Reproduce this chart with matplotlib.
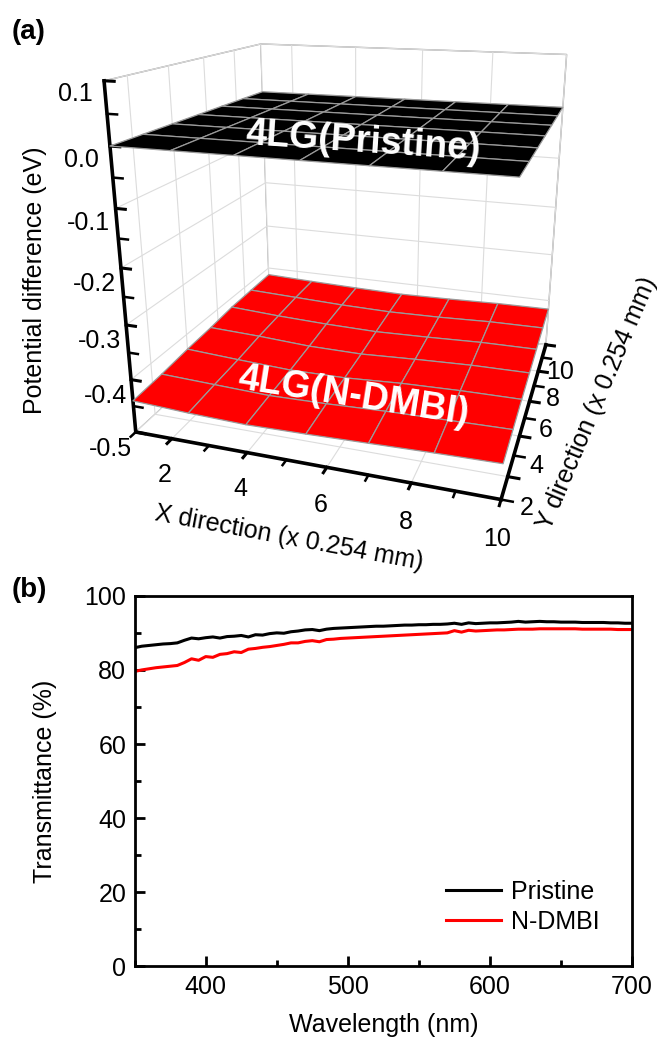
import numpy as np
import matplotlib.pyplot as plt
from matplotlib.ticker import MultipleLocator, FixedLocator, NullLocator

plt.rcParams['font.family'] = ['Liberation Sans', 'DejaVu Sans']

# (a) surface maps, grid points in units of 0.254 mm
x_pos = [1, 2.5, 4, 5.5, 7, 8.5, 10]
y_pos = [1, 2.5, 4, 5.5, 7, 8.5, 10]
z_pristine = [
    [0.0, 0.0, 0.0, 0.0, 0.0, 0.0, 0.0],
    [0.0, 0.0, 0.0, 0.0, 0.0, 0.0, 0.0],
    [0.0, 0.0, 0.0, 0.0, 0.0, 0.0, 0.0],
    [0.0, 0.0, 0.0, 0.0, 0.0, 0.0, 0.0],
    [0.0, 0.0, 0.0, 0.0, 0.0, 0.0, 0.0],
    [0.0, 0.0, 0.0, 0.0, 0.0, 0.0, 0.0],
    [0.0, 0.0, 0.0, 0.0, 0.0, 0.0, 0.0],
]
z_ndmbi = [
    [-0.440, -0.445, -0.448, -0.446, -0.443, -0.440, -0.438],
    [-0.436, -0.440, -0.444, -0.442, -0.438, -0.436, -0.434],
    [-0.430, -0.436, -0.441, -0.440, -0.434, -0.431, -0.430],
    [-0.426, -0.430, -0.436, -0.437, -0.432, -0.428, -0.427],
    [-0.420, -0.426, -0.430, -0.432, -0.429, -0.425, -0.424],
    [-0.418, -0.422, -0.426, -0.428, -0.426, -0.422, -0.421],
    [-0.416, -0.420, -0.423, -0.425, -0.423, -0.420, -0.419],
]

# (b) transmittance spectra
wl = list(range(350, 705, 5))
t_pristine = [86.0, 86.4, 86.6, 86.8, 87.0, 87.1, 87.3, 88.0, 88.6, 88.4,
              88.7, 88.9, 88.6, 89.0, 89.1, 89.3, 88.9, 89.5, 89.4, 89.8,
              90.0, 89.9, 90.3, 90.5, 90.8, 90.9, 90.6, 91.0, 91.2, 91.3,
              91.4, 91.5, 91.6, 91.7, 91.8, 91.8, 91.9, 92.0, 92.1, 92.1,
              92.2, 92.2, 92.3, 92.3, 92.4, 92.6, 92.3, 92.7, 92.5, 92.6,
              92.7, 92.7, 92.8, 92.9, 93.1, 92.9, 93.0, 93.1, 93.0, 93.0,
              92.9, 92.9, 92.9, 92.8, 92.8, 92.8, 92.8, 92.7, 92.7, 92.6,
              92.6]
t_ndmbi = [79.6, 80.0, 80.3, 80.6, 80.8, 81.0, 81.2, 82.0, 83.0, 82.6,
           83.6, 83.4, 84.2, 84.4, 84.9, 84.7, 85.6, 85.8, 86.1, 86.3,
           86.6, 86.9, 87.3, 87.3, 87.7, 87.9, 87.6, 88.2, 88.3, 88.5,
           88.6, 88.7, 88.8, 88.9, 89.0, 89.1, 89.2, 89.3, 89.4, 89.5,
           89.6, 89.7, 89.8, 89.9, 90.0, 90.6, 90.2, 90.7, 90.5, 90.6,
           90.7, 90.8, 90.8, 90.9, 91.0, 91.0, 91.0, 91.1, 91.1, 91.1,
           91.1, 91.1, 91.1, 91.0, 91.0, 91.0, 91.0, 91.0, 90.9, 90.9,
           90.9]

fs = 18

fig = plt.figure(figsize=(6.57, 10.38), dpi=100)

# ---- panel (a)
ax = fig.add_axes([0.037, 0.466, 1.0, 0.6], projection='3d', computed_zorder=False)
X, Y = np.meshgrid(x_pos, y_pos)
ax.plot_surface(X, Y, np.array(z_ndmbi), color='#ff0000', edgecolor='#9a9a9a',
                linewidth=0.9, shade=False, rstride=1, cstride=1, zorder=2)
ax.plot_surface(X, Y, np.array(z_pristine), color='black', edgecolor='#9a9a9a',
                linewidth=0.9, shade=False, rstride=1, cstride=1, zorder=3)
ax.set_xlim(1, 10)
ax.set_ylim(1, 10)
ax.set_zlim(-0.5, 0.1)
ax.view_init(elev=18, azim=-72)
ax.set_proj_type('persp', focal_length=0.26)
ax.set_box_aspect((1.1, 1.0, 1.05), zoom=0.9)

ax.xaxis.set_major_locator(FixedLocator([2, 4, 6, 8, 10]))
ax.yaxis.set_major_locator(FixedLocator([2, 4, 6, 8, 10]))
ax.zaxis.set_major_locator(MultipleLocator(0.1))
ax.xaxis.set_minor_locator(MultipleLocator(1))
ax.yaxis.set_minor_locator(MultipleLocator(1))
ax.zaxis.set_minor_locator(MultipleLocator(0.05))
ax.zaxis.set_major_formatter(lambda v, p: f'{v:.1f}')

# put the z axis on the front-left edge
ax.zaxis._axinfo['juggled'] = (1, 2, 0)


def major_grid_only(axis):
    orig = axis.draw_grid

    def draw_grid(renderer):
        minor = axis.get_minor_locator()
        axis.set_minor_locator(NullLocator())
        orig(renderer)
        axis.set_minor_locator(minor)
    axis.draw_grid = draw_grid


for axis in (ax.xaxis, ax.yaxis, ax.zaxis):
    axis.set_pane_color((1, 1, 1, 1))
    axis.pane.set_edgecolor('#9a9a9a')
    axis._axinfo['grid'].update(color='#dcdcdc', linewidth=0.8)
    axis._axinfo['tick'].update(inward_factor=0.35, outward_factor=0.0)
    axis._axinfo['tick']['linewidth'] = {True: 2.2, False: 1.8}
    axis.line.set_linewidth(2.6)
    axis.line.set_color('black')
    major_grid_only(axis)
ax.tick_params(labelsize=fs)

ax.set_xlabel('X direction (x 0.254 mm)', fontsize=fs, labelpad=12)
ax.zaxis.set_rotate_label(False)
ax.set_zlabel('Potential difference (eV)', fontsize=fs, rotation=90, labelpad=15)
# y label placed like the reference (beside the depth axis)
fig.text(0.908, 0.612, 'Y direction (x 0.254 mm)', fontsize=fs, rotation=67,
         ha='center', va='center')

ax.text(6.2, 3.3, 0.0, '4LG(Pristine)', zdir='x', color='white', fontsize=27,
        fontweight='bold', ha='center', va='center', zorder=10)
ax.text(6.1, 2.8, -0.43, '4LG(N-DMBI)', zdir='x', color='white', fontsize=27,
        fontweight='bold', ha='center', va='center', zorder=10)

fig.text(0.018, 0.962, '(a)', fontsize=20, fontweight='bold')

# ---- panel (b)
ax2 = fig.add_axes([0.205, 0.069, 0.757, 0.357])
ax2.plot(wl, t_pristine, color='black', lw=2.2, label='Pristine')
ax2.plot(wl, t_ndmbi, color='#ff0000', lw=2.2, label='N-DMBI')
ax2.set_xlim(350, 700)
ax2.set_ylim(0, 100)
ax2.xaxis.set_major_locator(MultipleLocator(100))
ax2.xaxis.set_minor_locator(MultipleLocator(50))
ax2.yaxis.set_major_locator(MultipleLocator(20))
ax2.yaxis.set_minor_locator(MultipleLocator(10))
ax2.tick_params(which='both', direction='in', width=2, labelsize=fs, pad=6)
ax2.tick_params(which='major', length=7)
ax2.tick_params(which='minor', length=4)
for s in ax2.spines.values():
    s.set_linewidth(2)
ax2.set_xlabel('Wavelength (nm)', fontsize=fs, labelpad=10)
ax2.set_ylabel('Transmittance (%)', fontsize=fs, labelpad=20)
ax2.legend(loc='lower right', frameon=False, fontsize=fs, handlelength=2.2,
           handletextpad=0.4, borderaxespad=0.9, labelspacing=0.25)

fig.text(0.018, 0.425, '(b)', fontsize=20, fontweight='bold')

fig.savefig('out.png', dpi=100)
